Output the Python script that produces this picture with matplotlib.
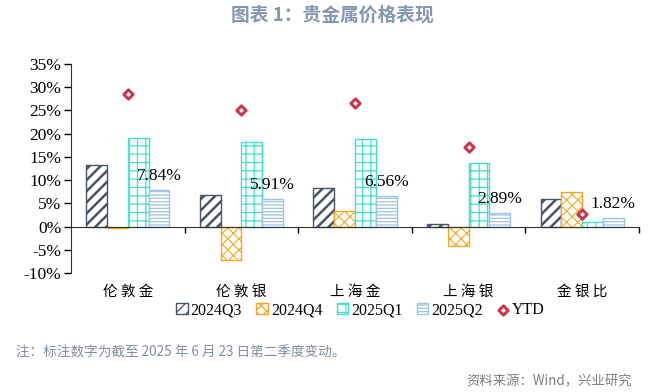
import matplotlib
matplotlib.use("Agg")
import matplotlib.pyplot as plt
import numpy as np

# data (%)
categories = ["伦敦金", "伦敦银", "上海金", "上海银", "金银比"]
q3_2024 = [13.3, 6.9, 8.4, 0.6, 5.9]
q4_2024 = [-0.4, -7.3, 3.4, -4.1, 7.5]
q1_2025 = [19.0, 18.1, 18.9, 13.7, 1.0]
q2_2025 = [7.84, 5.91, 6.56, 2.89, 1.82]
ytd = [28.5, 25.0, 26.7, 17.2, 2.8]
series_names = ["2024Q3", "2024Q4", "2025Q1", "2025Q2"]
yticks = np.arange(-10, 36, 5)

serif = "Liberation Serif"
cjk = ["Noto Sans CJK SC", "DejaVu Sans"]

fig = plt.figure(figsize=(6.71, 3.92), dpi=100)
ax = fig.add_axes([0.1058, 0.3036, 0.8465, 0.5331])

styles = [
    ("#44546A", "///", 1.8),
    ("#F5A623", "xxx", 0.8),
    ("#40E0D0", "++", 0.9),
    ("#9DC3E6", "-----", 0.9),
]
w = 0.183
x = np.arange(len(categories))
handles = []
for k, (vals, (col, hatch, hlw)) in enumerate(zip([q3_2024, q4_2024, q1_2025, q2_2025], styles)):
    plt.rcParams["hatch.linewidth"] = hlw
    plt.rcParams["hatch.color"] = col
    bars = ax.bar(x + (k - 1.5) * w, vals, w, facecolor="white", edgecolor=col,
                  hatch=hatch, linewidth=1.0, label=series_names[k], zorder=2)
    for b in bars:
        if hasattr(b, "set_hatch_linewidth"):
            b.set_hatch_linewidth(hlw)
    handles.append(bars)

sc = ax.scatter(x, ytd, marker="D", s=22, facecolor="white", edgecolor="#C8374A",
                linewidth=2.2, zorder=3, label="YTD")
handles.append(sc)

for i, v in enumerate(q2_2025):
    ax.text(x[i] + 1.5 * w, v + 3.1, "%.2f%%" % v, ha="center", va="center",
            fontsize=12.5, family=serif, zorder=4)

ax.set_xlim(-0.5, 4.5)
ax.set_ylim(-10, 35)
ax.set_yticks(yticks)
ax.set_yticklabels(["%d%%" % t for t in yticks], family=serif, fontsize=12.5)
ax.tick_params(axis="y", direction="out", length=5, width=1, pad=2)

ax.spines["top"].set_visible(False)
ax.spines["right"].set_visible(False)
ax.spines["left"].set_color("#333333")
ax.spines["bottom"].set_position(("data", 0))
ax.spines["bottom"].set_color("#333333")
ax.set_xticks(np.arange(0.5, 4.6, 1))
ax.set_xticklabels([])
ax.tick_params(axis="x", direction="out", length=4, width=1)

for i, c in enumerate(categories):
    ax.text(x[i], -0.055, " ".join(list(c)), transform=ax.get_xaxis_transform(),
            ha="center", va="top", fontsize=10.5, family=cjk)

fig.legend(handles=handles, labels=series_names + ["YTD"], loc="center",
           bbox_to_anchor=(0.537, 0.209), ncol=5, frameon=False,
           prop={"family": serif, "size": 11.5}, handlelength=0.7, handleheight=0.7,
           handletextpad=0.2, columnspacing=0.9)

fig.text(0.495, 0.962, "图表 1：贵金属价格表现", ha="center", va="center", fontsize=13.5,
         fontweight="bold", color="#8496B0", family=cjk)
fig.text(0.024, 0.101, "注：标注数字为截至 2025 年 6 月 23 日第二季度变动。", ha="left", va="center",
         fontsize=9.8, color="#7F8EA3", family=cjk)
fig.text(0.942, 0.028, "资料来源：Wind，兴业研究", ha="right", va="center",
         fontsize=9.6, color="#7F7F7F", family=cjk)

fig.savefig("out.png", dpi=100)
